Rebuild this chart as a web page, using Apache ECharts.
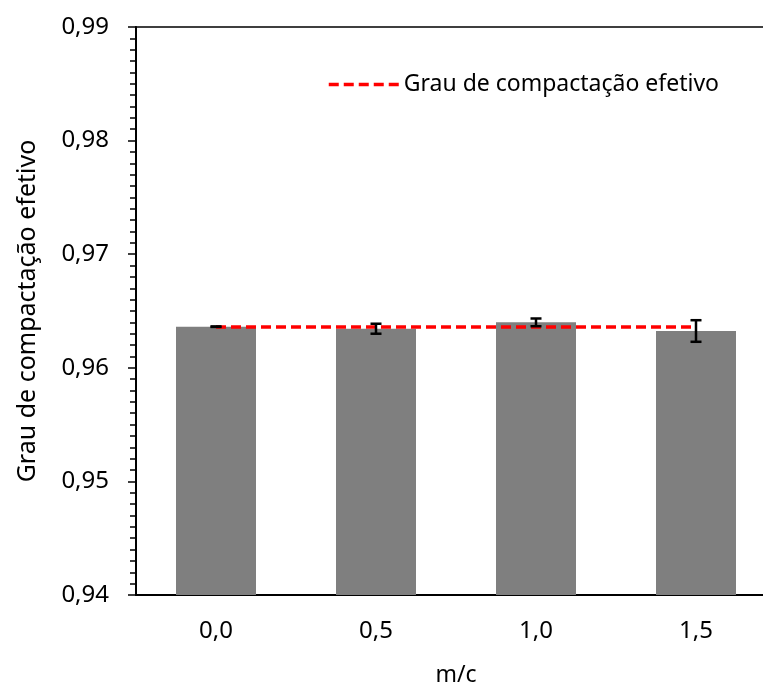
<!DOCTYPE html>
<html>
<head>
<meta charset="utf-8">
<script src="https://cdn.jsdelivr.net/npm/echarts@6/dist/echarts.min.js"></script>
<style>
  html, body { margin: 0; padding: 0; background: #fff; }
  #main { width: 763px; height: 685px; }
</style>
</head>
<body>
<div id="main"></div>
<script>
//////////// dados //////////////////
var categories = ['0,0', '0,5', '1,0', '1,5'];
var meanValues = [0.96362, 0.96344, 0.96400, 0.96324];
var errValues = [0.00002, 0.00044, 0.00034, 0.00095];
var effectiveLine = [0.96360, 0.96360, 0.96360, 0.96360];
var lineName = 'Grau de compactação efetivo';

var errData = meanValues.map(function (v, i) {
    return [i, v - errValues[i], v + errValues[i]];
});

var fontFam = 'Noto Sans';

var chart_dom = document.getElementById('main');
var myChart = echarts.init(chart_dom);
var option = {
    backgroundColor: '#FFFFFF',
    animation: false,
    textStyle: { fontFamily: fontFam, color: '#000' },
    grid: {
        left: 136,
        top: 27,
        bottom: 90,
        width: 640,
        containLabel: false,
        outerBoundsMode: 'none',
        show: true,
        borderColor: '#000',
        borderWidth: 1.5
    },
    legend: {
        data: [lineName],
        left: 322,
        top: 68,
        itemWidth: 70,
        itemHeight: 14,
        itemGap: 5,
        itemStyle: { opacity: 0 },
        lineStyle: { width: 3.5 },
        textStyle: { fontFamily: fontFam, fontSize: 23, color: '#000' }
    },
    xAxis: {
        type: 'category',
        data: categories,
        name: 'm/c',
        nameLocation: 'middle',
        nameGap: 69,
        nameTextStyle: { fontFamily: fontFam, fontSize: 23, color: '#000' },
        axisLine: { lineStyle: { color: '#000', width: 2 } },
        axisTick: { show: false },
        axisLabel: { fontFamily: fontFam, fontSize: 24, color: '#000', margin: 24 }
    },
    yAxis: {
        type: 'value',
        min: 0.94,
        max: 0.99,
        interval: 0.01,
        name: 'Grau de compactação efetivo',
        nameLocation: 'middle',
        nameGap: 96,
        nameTextStyle: { fontFamily: fontFam, fontSize: 25, color: '#000' },
        axisLine: { show: true, lineStyle: { color: '#000', width: 2 } },
        axisTick: { show: true, length: 8, lineStyle: { color: '#000', width: 1.5 } },
        minorTick: { show: true, splitNumber: 10, length: 6, lineStyle: { color: '#000', width: 1.5 } },
        splitLine: { show: false },
        axisLabel: {
            fontFamily: fontFam, fontSize: 24, color: '#000', margin: 27,
            formatter: function (v) { return v.toFixed(2).replace('.', ','); }
        }
    },
    series: [
        {
            name: 'media',
            type: 'bar',
            barWidth: '50%',
            data: meanValues,
            itemStyle: { color: '#7f7f7f' },
            z: 2
        },
        {
            name: lineName,
            type: 'line',
            data: effectiveLine,
            symbol: 'none',
            lineStyle: { color: '#ff0000', width: 3.5, type: [10, 5] },
            itemStyle: { color: '#ff0000' },
            z: 3
        },
        {
            name: 'erro',
            type: 'custom',
            data: errData,
            z: 4,
            renderItem: function (params, api) {
                var x = api.value(0);
                var lo = api.coord([x, api.value(1)]);
                var hi = api.coord([x, api.value(2)]);
                var half = 5.5;
                var st = { stroke: '#000', lineWidth: 2.5 };
                return {
                    type: 'group',
                    children: [
                        { type: 'line', shape: { x1: lo[0], y1: lo[1], x2: hi[0], y2: hi[1] }, style: st },
                        { type: 'line', shape: { x1: lo[0] - half, y1: lo[1], x2: lo[0] + half, y2: lo[1] }, style: st },
                        { type: 'line', shape: { x1: hi[0] - half, y1: hi[1], x2: hi[0] + half, y2: hi[1] }, style: st }
                    ]
                };
            }
        }
    ]
};
myChart.setOption(option);
</script>
</body>
</html>
